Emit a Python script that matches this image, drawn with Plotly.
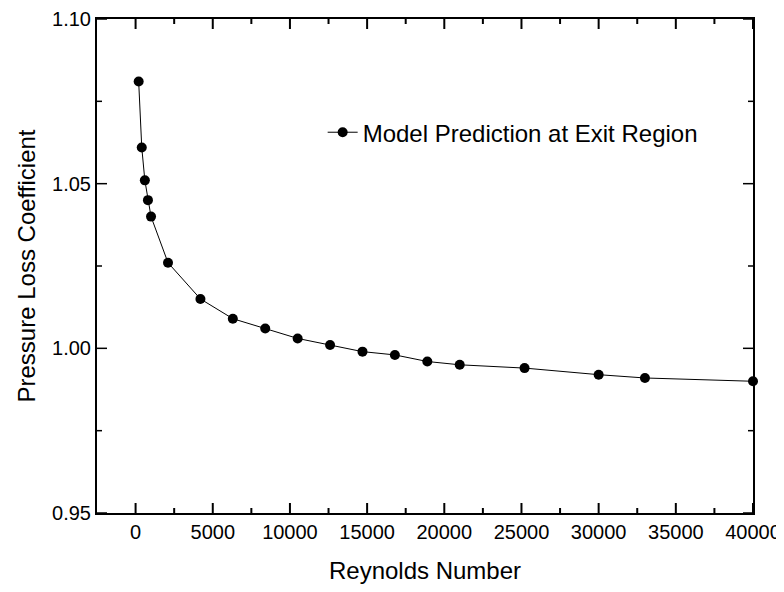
import plotly.graph_objects as go

reynolds = [200, 400, 600, 800, 1000, 2100, 4200, 6300, 8400, 10500, 12600,
            14700, 16800, 18900, 21000, 25200, 30000, 33000, 40000]
loss_coef = [1.081, 1.061, 1.051, 1.045, 1.040, 1.026, 1.015, 1.009, 1.006,
             1.003, 1.001, 0.999, 0.998, 0.996, 0.995, 0.994, 0.992, 0.991, 0.990]
series_name = "Model Prediction at Exit Region"
x_title = "Reynolds Number"
y_title = "Pressure Loss Coefficient"
x_range = [-2500, 40000]
y_range = [0.95, 1.10]
x_major = [0, 5000, 10000, 15000, 20000, 25000, 30000, 35000, 40000]
x_minor = [2500, 7500, 12500, 17500, 22500, 27500, 32500, 37500]
y_major = [0.95, 1.00, 1.05, 1.10]
y_minor = [0.975, 1.025, 1.075]

FONT = "Liberation Sans, Arial, sans-serif"
PLOT_W, PLOT_H = 656, 494
MAJOR_LEN, MINOR_LEN = 10, 5

fig = go.Figure()
fig.add_trace(go.Scatter(
    x=reynolds, y=loss_coef, mode="lines+markers", name=series_name,
    line=dict(color="black", width=1),
    marker=dict(color="black", size=10, symbol="circle"),
    cliponaxis=False,
))


def x_frac(v):
    return (v - x_range[0]) / (x_range[1] - x_range[0])


tick_line = dict(color="black", width=2)
shapes = []
for vals, ln in ((x_major, MAJOR_LEN), (x_minor, MINOR_LEN)):
    f = ln / PLOT_H
    for v in vals:
        p = x_frac(v)
        shapes.append(dict(type="line", xref="paper", yref="paper",
                           x0=p, x1=p, y0=0, y1=f, line=tick_line, layer="above"))
        shapes.append(dict(type="line", xref="paper", yref="paper",
                           x0=p, x1=p, y0=1 - f, y1=1, line=tick_line, layer="above"))
for vals, ln in ((y_major, MAJOR_LEN), (y_minor, MINOR_LEN)):
    f = ln / PLOT_W
    for v in vals:
        shapes.append(dict(type="line", yref="y", xref="paper",
                           y0=v, y1=v, x0=0, x1=f, line=dict(color="black", width=1.5), layer="above"))
        shapes.append(dict(type="line", yref="y", xref="paper",
                           y0=v, y1=v, x0=1 - f, x1=1, line=dict(color="black", width=1.5), layer="above"))

axis_common = dict(
    showline=True, linecolor="black", linewidth=2, mirror=True, ticks="",
    showgrid=False, zeroline=False, automargin=False,
    tickfont=dict(family=FONT, size=20, color="black"),
)

fig.update_layout(
    xaxis=dict(
        **axis_common,
        range=x_range, tickmode="array", tickvals=x_major, tickformat="d",
        title=dict(text=x_title, font=dict(family=FONT, size=24, color="black"), standoff=20),
    ),
    yaxis=dict(
        **axis_common,
        range=y_range, tickmode="array", tickvals=y_major, tickformat=".2f",
        ticksuffix="\u00a0\u00a0",
        title=dict(text=y_title, font=dict(family=FONT, size=24, color="black"), standoff=10),
    ),
    shapes=shapes,
    width=776, height=584,
    margin=dict(l=89, r=31, t=11, b=79),
    paper_bgcolor="white", plot_bgcolor="white",
    showlegend=True,
    legend=dict(
        x=0.344, y=0.77, xanchor="left", yanchor="middle",
        bgcolor="rgba(0,0,0,0)", borderwidth=0,
        font=dict(family=FONT, size=24, color="black"),
    ),
)

fig.write_html("out.html")
